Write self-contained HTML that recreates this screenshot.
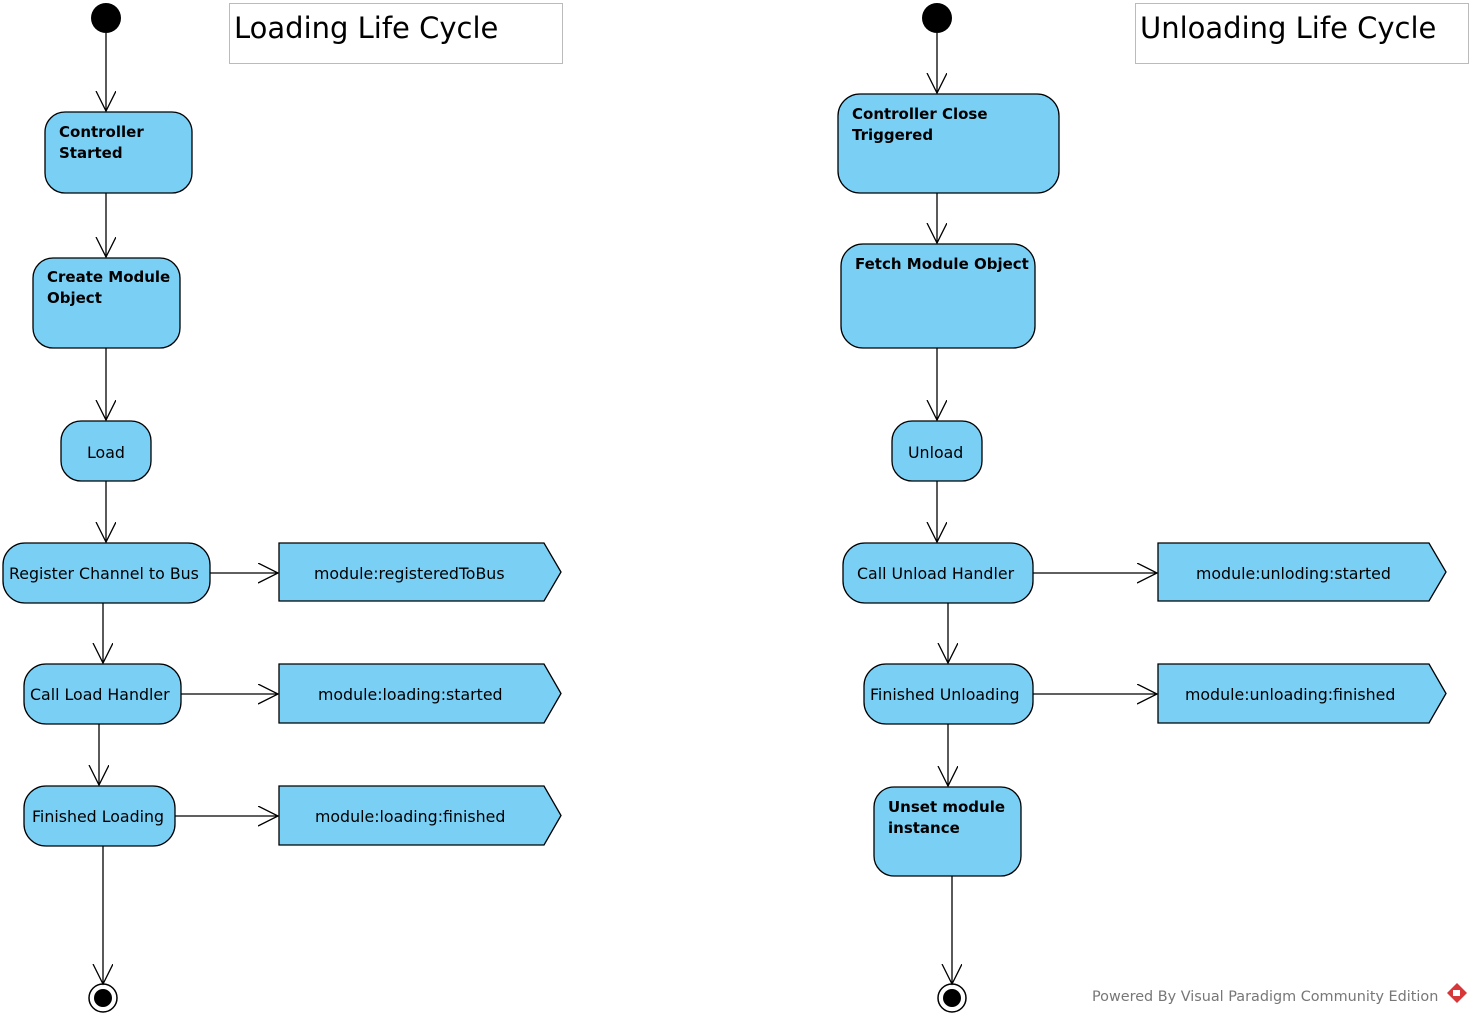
<!DOCTYPE html>
<html><head><meta charset="utf-8"><style>
html,body{margin:0;padding:0;background:#fff;}
svg{display:block;}
text{font-family:"DejaVu Sans","Liberation Sans",sans-serif;font-size:15.8px;fill:#000;}
.b{font-weight:bold;font-size:15px;}
.t{font-size:29px;}
</style></head><body>
<svg width="1475" height="1020" viewBox="0 0 1475 1020" xmlns="http://www.w3.org/2000/svg">
<defs>
<marker id="a" markerWidth="24" markerHeight="24" refX="20" refY="10" orient="auto" markerUnits="userSpaceOnUse">
<path d="M0,0 L20,10 L0,20" fill="none" stroke="#000" stroke-width="1.3"/>
</marker>
</defs>
<g fill="#7acff5" stroke="#000" stroke-width="1.3">
<rect x="45" y="112" width="147" height="81" rx="20"/>
<rect x="33" y="258" width="147" height="90" rx="20"/>
<rect x="61" y="421" width="90" height="60" rx="20"/>
<rect x="3" y="543" width="207" height="60" rx="22"/>
<rect x="24" y="664" width="157" height="60" rx="22"/>
<rect x="24" y="786" width="151" height="60" rx="22"/>
<path d="M279,543 H544 L561,572 L544,601 H279 Z"/>
<path d="M279,664 H544 L561,693.5 L544,723 H279 Z"/>
<path d="M279,786 H544 L561,815.5 L544,845 H279 Z"/>
<rect x="838" y="94" width="221" height="99" rx="22"/>
<rect x="841" y="244" width="194" height="104" rx="22"/>
<rect x="892" y="421" width="90" height="60" rx="20"/>
<rect x="843" y="543" width="190" height="60" rx="22"/>
<rect x="864" y="664" width="169" height="60" rx="22"/>
<rect x="874" y="787" width="147" height="89" rx="20"/>
<path d="M1158,543 H1429 L1446,572 L1429,601 H1158 Z"/>
<path d="M1158,664 H1429 L1446,693.5 L1429,723 H1158 Z"/>
</g>
<g fill="#fff" stroke="#bbb" stroke-width="1">
<rect x="229.5" y="3.5" width="333" height="60"/>
<rect x="1135.5" y="3.5" width="333" height="60"/>
</g>
<text class="t" x="234" y="38">Loading Life Cycle</text>
<text class="t" x="1140" y="38">Unloading Life Cycle</text>
<circle cx="106" cy="18" r="15" fill="#000"/>
<circle cx="937" cy="18" r="15" fill="#000"/>
<circle cx="103" cy="998" r="14" fill="#fff" stroke="#000" stroke-width="1.5"/>
<circle cx="103" cy="998" r="9" fill="#000"/>
<circle cx="952" cy="998" r="14" fill="#fff" stroke="#000" stroke-width="1.5"/>
<circle cx="952" cy="998" r="9" fill="#000"/>
<g stroke="#000" stroke-width="1.3" fill="none" marker-end="url(#a)">
<line x1="106" y1="33" x2="106" y2="111"/>
<line x1="106" y1="193" x2="106" y2="257"/>
<line x1="106" y1="348" x2="106" y2="420"/>
<line x1="106" y1="481" x2="106" y2="542"/>
<line x1="103" y1="603" x2="103" y2="663"/>
<line x1="99" y1="724" x2="99" y2="785"/>
<line x1="103" y1="846" x2="103" y2="984"/>
<line x1="210" y1="573" x2="278" y2="573"/>
<line x1="181" y1="694" x2="278" y2="694"/>
<line x1="175" y1="816" x2="278" y2="816"/>
<line x1="937" y1="33" x2="937" y2="93"/>
<line x1="937" y1="193" x2="937" y2="243"/>
<line x1="937" y1="348" x2="937" y2="420"/>
<line x1="937" y1="481" x2="937" y2="542"/>
<line x1="948" y1="603" x2="948" y2="663"/>
<line x1="948" y1="724" x2="948" y2="786"/>
<line x1="952" y1="876" x2="952" y2="984"/>
<line x1="1033" y1="573" x2="1157" y2="573"/>
<line x1="1033" y1="694" x2="1157" y2="694"/>
</g>
<text class="b" x="59" y="137">Controller</text>
<text class="b" x="59" y="158">Started</text>
<text class="b" x="47" y="282">Create Module</text>
<text class="b" x="47" y="303">Object</text>
<text x="87" y="458">Load</text>
<text x="9" y="579">Register Channel to Bus</text>
<text x="30" y="700">Call Load Handler</text>
<text x="32" y="822">Finished Loading</text>
<text x="314" y="579">module:registeredToBus</text>
<text x="318" y="700">module:loading:started</text>
<text x="315" y="822">module:loading:finished</text>
<text class="b" x="852" y="119">Controller Close</text>
<text class="b" x="852" y="140">Triggered</text>
<text class="b" x="855" y="269">Fetch Module Object</text>
<text x="908" y="458">Unload</text>
<text x="857" y="579">Call Unload Handler</text>
<text x="870" y="700">Finished Unloading</text>
<text class="b" x="888" y="812">Unset module</text>
<text class="b" x="888" y="833">instance</text>
<text x="1196" y="579">module:unloding:started</text>
<text x="1185" y="700">module:unloading:finished</text>
<text x="1092" y="1001" style="font-size:14.4px;fill:#777">Powered By Visual Paradigm Community Edition</text>
<path d="M1457,983 L1467,993 L1457,1003 L1447,993 Z" fill="#d8373a"/>
<path d="M1453,990 h7 v6 h-7 z" fill="#fff"/>
</svg>
</body></html>
